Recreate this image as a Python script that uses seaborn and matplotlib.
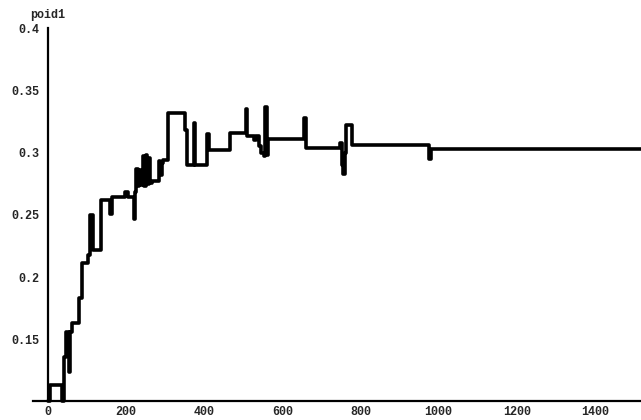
import matplotlib
matplotlib.use("Agg")
import matplotlib.pyplot as plt
import seaborn as sns
import pandas as pd
from matplotlib.ticker import FixedLocator

# ---- data (step changes: value holds from x until next x) ----
step_x = [0, 5, 36, 40, 46, 54, 57, 61, 78, 88, 103, 107, 116, 136, 159, 165,
          198, 205, 219, 223, 226, 230, 234, 238, 242, 246, 250, 254, 258, 262,
          266, 283, 287, 291, 295, 308, 351, 357, 373, 377, 408, 412, 466, 506,
          510, 528, 532, 540, 546, 552, 556, 560, 564, 656, 661, 748, 752, 756,
          760, 764, 777, 975, 980, 1518]
step_y = [0.100, 0.113, 0.100, 0.136, 0.156, 0.124, 0.156, 0.163, 0.183, 0.211,
          0.218, 0.250, 0.222, 0.262, 0.251, 0.264, 0.268, 0.264, 0.247, 0.268,
          0.287, 0.273, 0.286, 0.274, 0.297, 0.273, 0.298, 0.275, 0.296, 0.276,
          0.277, 0.293, 0.282, 0.292, 0.294, 0.332, 0.318, 0.290, 0.324, 0.290,
          0.315, 0.302, 0.316, 0.335, 0.313, 0.310, 0.313, 0.305, 0.300, 0.297,
          0.337, 0.298, 0.311, 0.328, 0.304, 0.308, 0.290, 0.283, 0.300, 0.322,
          0.306, 0.295, 0.303, 0.303]

x_major = [0, 200, 400, 600, 800, 1000, 1200, 1400]
x_labels = ["0", "200", "400", "600", "800", "1000", "1200", "1400"]
y_major = [0.15, 0.2, 0.25, 0.3, 0.35, 0.4]
y_labels = ["0.15", "0.2", "0.25", "0.3", "0.35", "0.4"]
axis_label = "poid1"

sns.set_style("white")
font = {"family": "Liberation Mono", "weight": "bold", "size": 8.5}

fig = plt.figure(figsize=(6.41, 4.20), dpi=100)
ax = fig.add_axes([0, 0, 1, 1])

df = pd.DataFrame({"t": step_x, "poid1": step_y})
sns.lineplot(data=df, x="t", y="poid1", drawstyle="steps-post", estimator=None,
             sort=False, color="black", linewidth=2.6, ax=ax)

ax.set_xlim(-123, 1518)
ax.set_ylim(0.0851, 0.4227)
ax.set_xlabel("")
ax.set_ylabel("")

for s in ["top", "right"]:
    ax.spines[s].set_visible(False)
ax.spines["left"].set_position(("data", 0))
ax.spines["bottom"].set_position(("data", 0.1))
ax.spines["left"].set_bounds(0.1, 0.4)
ax.spines["bottom"].set_bounds(-38, 1518)
for s in ["left", "bottom"]:
    ax.spines[s].set_linewidth(1.6)
    ax.spines[s].set_color("black")

ax.xaxis.set_major_locator(FixedLocator(x_major))
ax.set_xticklabels(x_labels, fontdict=font)
ax.xaxis.set_minor_locator(FixedLocator([v for v in range(40, 1520, 40) if v % 200]))
ax.yaxis.set_major_locator(FixedLocator(y_major))
ax.set_yticklabels(y_labels, fontdict=font)
ax.yaxis.set_minor_locator(FixedLocator([round(0.1 + 0.01 * i, 2) for i in range(1, 30) if i % 5]))

ax.tick_params(axis="both", which="major", direction="in", length=4, width=1.2, color="black")
ax.tick_params(axis="both", which="minor", direction="in", length=2.5, width=1.0, color="black")
ax.tick_params(axis="x", which="major", pad=3)
ax.tick_params(axis="y", which="major", pad=6)

ax.text(0, 0.4105, axis_label, ha="center", va="center", fontdict=font)

fig.savefig("out.png", dpi=100)
